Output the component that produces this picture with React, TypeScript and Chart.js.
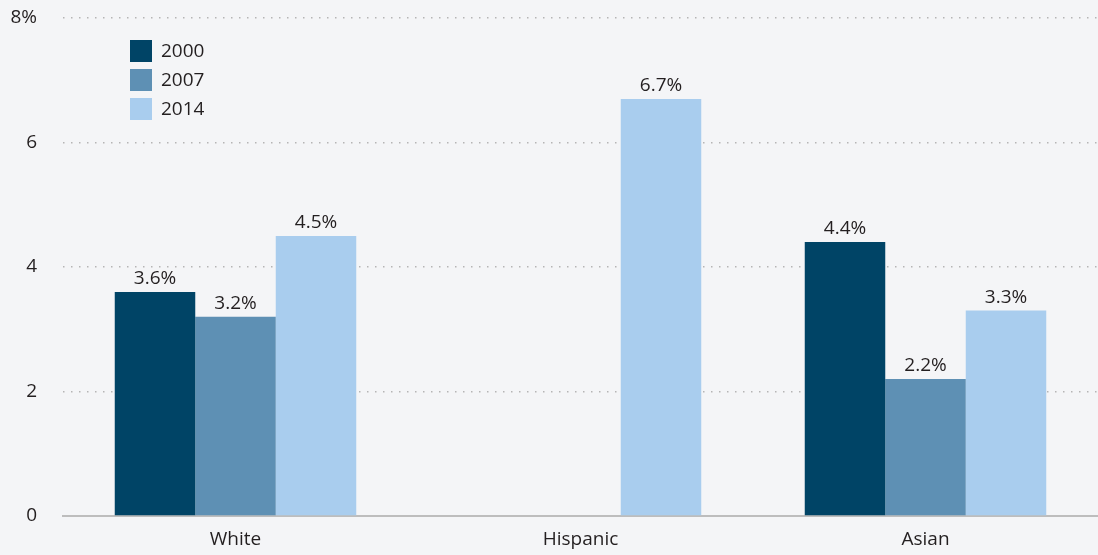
import React, { useEffect, useRef } from "react";
import { Chart, registerables } from "chart.js";

Chart.register(...registerables);

const categories = ["White", "Hispanic", "Asian"];
const seriesLabels = ["2000", "2007", "2014"];
const values2000 = [3.6, null, 4.4];
const values2007 = [3.2, null, 2.2];
const values2014 = [4.5, 6.7, 3.3];
const colors = ["#004466", "#5e90b4", "#a9cdee"];
const yTicks = [0, 2, 4, 6, 8];

const FONT = "'Open Sans', 'Noto Sans', sans-serif";
const TEXT = "#231f20";
const FS = 19;

const labelPlugin = {
  id: "valueLabels",
  afterDatasetsDraw(chart: any) {
    const ctx = chart.ctx;
    ctx.save();
    ctx.font = `${FS}px ${FONT}`;
    ctx.fillStyle = TEXT;
    ctx.textAlign = "center";
    ctx.textBaseline = "alphabetic";
    chart.data.datasets.forEach((ds: any, i: number) => {
      const meta = chart.getDatasetMeta(i);
      meta.data.forEach((bar: any, j: number) => {
        const v = ds.data[j];
        if (v === null || v === undefined) return;
        ctx.fillText(v.toFixed(1) + "%", bar.x, bar.y - 8);
      });
    });
    ctx.restore();
  },
};

const legendPlugin = {
  id: "customLegend",
  afterDraw(chart: any) {
    const ctx = chart.ctx;
    ctx.save();
    ctx.font = `${FS}px ${FONT}`;
    ctx.textBaseline = "middle";
    ctx.textAlign = "left";
    seriesLabels.forEach((lab, i) => {
      const y = 40 + i * 29;
      ctx.fillStyle = colors[i];
      ctx.fillRect(130, y, 22, 22);
      ctx.fillStyle = TEXT;
      ctx.fillText(lab, 161, y + 12);
    });
    ctx.restore();
  },
};

const bgPlugin = {
  id: "bg",
  beforeDraw(chart: any) {
    const ctx = chart.ctx;
    ctx.save();
    ctx.fillStyle = "#f4f5f7";
    ctx.fillRect(0, 0, chart.width, chart.height);
    ctx.restore();
  },
};

export default function App() {
  const ref = useRef<HTMLCanvasElement>(null);
  useEffect(() => {
    document.body.style.margin = "0";
    const chart = new Chart(ref.current!, {
      type: "bar",
      data: {
        labels: categories,
        datasets: [
          { label: seriesLabels[0], data: values2000, backgroundColor: colors[0] },
          { label: seriesLabels[1], data: values2007, backgroundColor: colors[1] },
          { label: seriesLabels[2], data: values2014, backgroundColor: colors[2] },
        ],
      },
      options: {
        animation: false,
        responsive: false,
        maintainAspectRatio: false,
        layout: { padding: { top: 0, right: 0, left: 0, bottom: 0 } },
        datasets: { bar: { categoryPercentage: 0.7, barPercentage: 1.0 } },
        plugins: { legend: { display: false }, tooltip: { enabled: false } },
        scales: {
          x: {
            grid: { display: false, drawTicks: false },
            border: { display: true, color: "#bdbdbd", width: 2 },
            ticks: { color: TEXT, font: { family: FONT, size: FS }, padding: 12 },
            afterFit(scale: any) {
              scale.height = 39;
            },
          },
          y: {
            min: 0,
            max: 8,
            afterBuildTicks(scale: any) {
              scale.ticks = yTicks.map((v) => ({ value: v }));
            },
            grid: {
              color: "#b5b5b5",
              lineWidth: 1.5,
              drawTicks: false,
            },
            border: { display: false, dash: [1.5, 6.5] },
            ticks: {
              color: TEXT,
              font: { family: FONT, size: FS },
              padding: 26,
              callback: (v: any) => (v === 8 ? "8%" : String(v)),
            },
            afterFit(scale: any) {
              scale.width = 63;
              scale.paddingTop = 18;
              scale.paddingBottom = 0;
            },
          },
        },
      } as any,
      plugins: [bgPlugin, labelPlugin, legendPlugin],
    });
    return () => chart.destroy();
  }, []);
  return (
    <div style={{ width: 1098, height: 555 }}>
      <canvas ref={ref} width={1098} height={555} style={{ display: "block" }} />
    </div>
  );
}
